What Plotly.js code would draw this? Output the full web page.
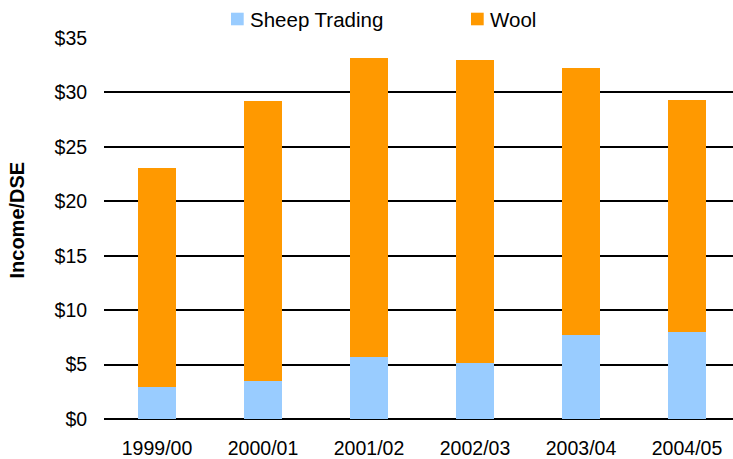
<!DOCTYPE html>
<html>
<head>
<meta charset="utf-8">
<script src="https://cdn.plot.ly/plotly-3.0.1.min.js"></script>
<style>html,body{margin:0;padding:0;background:#fff;}#chart{width:733px;height:459px;}</style>
</head>
<body>
<div id="chart"></div>
<script>
var years = ["1999/00", "2000/01", "2001/02", "2002/03", "2003/04", "2004/05"];
var sheepTrading = [2.9, 3.5, 5.7, 5.1, 7.7, 8.0];
var wool = [20.2, 25.7, 27.5, 27.9, 24.5, 21.3];
var yTickVals = [0, 5, 10, 15, 20, 25, 30, 35];
var yTickText = yTickVals.map(function (v) { return "$" + v; });
var seriesNames = ["Sheep Trading", "Wool"];
var seriesColors = ["#99CCFF", "#FF9900"];
var yTitle = "Income/DSE";

var W = 733, H = 459;
var M = {l: 104, r: 0, t: 38, b: 40};
var pw = W - M.l - M.r, ph = H - M.t - M.b;
function px2x(px) { return (px - M.l) / pw; }
function py2y(py) { return (H - M.b - py) / ph; }

var traces = [
  {type: "bar", name: seriesNames[0], x: years, y: sheepTrading,
   marker: {color: seriesColors[0]}, width: 0.35},
  {type: "bar", name: seriesNames[1], x: years, y: wool,
   marker: {color: seriesColors[1]}, width: 0.35}
];

// legend drawn as swatch shapes + text annotations (layout positions)
var legendSwatchLeft = [231, 471];
var shapes = [], annotations = [];
for (var i = 0; i < seriesNames.length; i++) {
  shapes.push({type: "rect", xref: "paper", yref: "paper",
    x0: px2x(legendSwatchLeft[i]), x1: px2x(legendSwatchLeft[i] + 12.7),
    y0: py2y(25.3), y1: py2y(12.7),
    fillcolor: seriesColors[i], line: {width: 0}, layer: "above"});
  annotations.push({xref: "paper", yref: "paper",
    x: px2x(legendSwatchLeft[i] + 16.5), y: py2y(19.5),
    xanchor: "left", yanchor: "middle", showarrow: false,
    text: seriesNames[i], font: {size: 20.5, color: "#000"}});
}
// y-axis title (placed slightly above the plot centre as in the reference)
annotations.push({xref: "paper", yref: "paper", x: px2x(16.5), y: py2y(220),
  xanchor: "center", yanchor: "middle", showarrow: false, textangle: -90,
  text: "<b>" + yTitle + "</b>", font: {size: 20, color: "#000"}});

var layout = {
  width: W, height: H,
  barmode: "stack",
  margin: M,
  paper_bgcolor: "#fff", plot_bgcolor: "#fff",
  font: {family: "Liberation Sans, Arial, sans-serif", size: 19.5, color: "#000"},
  showlegend: false,
  shapes: shapes,
  annotations: annotations,
  xaxis: {type: "category", range: [-0.5, 5.434], showgrid: false, showline: false,
          ticks: "outside", ticklen: 12, tickcolor: "rgba(0,0,0,0)",
          tickfont: {size: 19.5}, automargin: false},
  yaxis: {range: [0, 35], tickvals: yTickVals, ticktext: yTickText, showgrid: true,
          gridcolor: "#000", gridwidth: 2, zeroline: true, zerolinecolor: "#000",
          zerolinewidth: 2, showline: false,
          ticks: "outside", ticklen: 12, tickcolor: "rgba(0,0,0,0)",
          tickfont: {size: 19.5}, automargin: false}
};

Plotly.newPlot("chart", traces, layout, {displayModeBar: false, staticPlot: true});
</script>
</body>
</html>
